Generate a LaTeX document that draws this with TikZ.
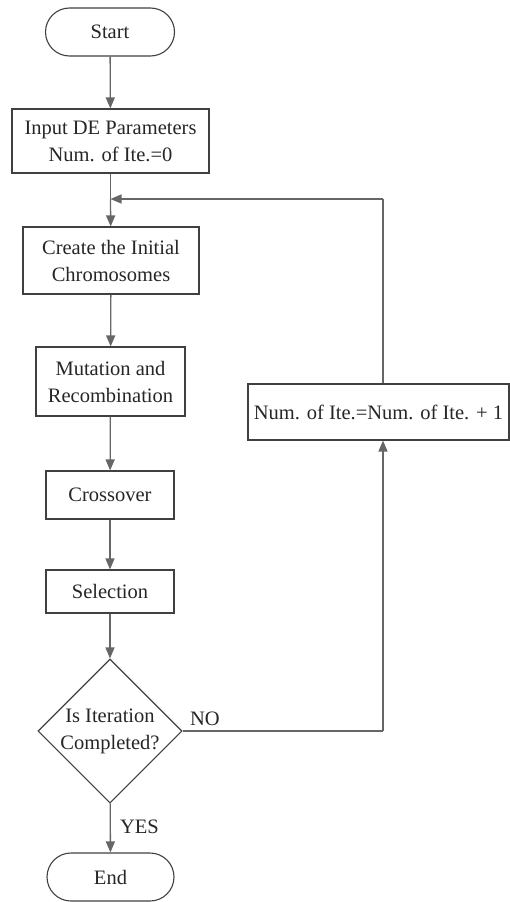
\documentclass[tikz,border=0pt]{standalone}
\usepackage{fontspec}
\setmainfont{Liberation Serif}
\usetikzlibrary{arrows.meta,shapes.geometric,shapes.misc}
\begin{document}
\begin{tikzpicture}[x=1pt,y=-1pt,
  every node/.style={font=\fontsize{20.5}{27}\selectfont, text=black!85, inner sep=0pt, align=center},
  boxs/.style={draw=black!75, line width=1.1pt, rectangle},
  term/.style={draw=black!75, line width=1.1pt, rounded rectangle},
  dec/.style={draw=black!75, line width=1.1pt, diamond, aspect=1},
  conn/.style={draw=black!60, line width=1.3pt},
  arr/.style={conn, -{Triangle[width=9pt,length=11pt]}},
  lbl/.style={font=\fontsize{20.5}{24}\selectfont}
]
\useasboundingbox (0,0) rectangle (510,902);
\node[term, minimum width=129pt, minimum height=48pt] (start) at (110,32) {Start};
\node[boxs, minimum width=197pt, minimum height=64pt] (input) at (110.5,141) {Input DE Parameters\\Num. of Ite.=0};
\node[boxs, minimum width=176pt, minimum height=67pt] (create) at (111,260.5) {Create the Initial\\Chromosomes};
\node[boxs, minimum width=149pt, minimum height=69pt] (mut) at (110.5,381.5) {Mutation and\\Recombination};
\node[boxs, minimum width=128pt, minimum height=48pt] (cross) at (110,495) {Crossover};
\node[boxs, minimum width=128pt, minimum height=43pt] (sel) at (110,591.5) {Selection};
\node[dec, minimum width=143pt, minimum height=142pt] (dia) at (110,731) {Is Iteration\\Completed?};
\node[term, minimum width=127pt, minimum height=48pt] (end) at (110.5,877) {End};
\node[boxs, minimum width=261pt, minimum height=56pt] (num) at (378.5,412) {Num. of Ite.=Num. of Ite. + 1};
\coordinate (merge) at (110.5,199);
\coordinate (top) at (383,199);
\coordinate (corner) at (383,731);
\node[lbl] (no) at (205,719) {NO};
\node[lbl] (yes) at (139.5,827) {YES};

\draw[arr] (start) -- (input);
\draw[conn] (input) -- (merge);
\draw[arr] (merge) -- (create);
\draw[arr] (create) -- (mut);
\draw[arr] (mut) -- (cross);
\draw[arr] (cross) -- (sel);
\draw[arr] (sel) -- (dia);
\draw[arr] (dia) -- (end);
\draw[conn] (dia.east) -- (corner);
\draw[arr] (corner) -- (corner |- num.south);
\draw[conn] (top |- num.north) -- (top);
\draw[arr] (top) -- (merge);
\end{tikzpicture}
\end{document}
